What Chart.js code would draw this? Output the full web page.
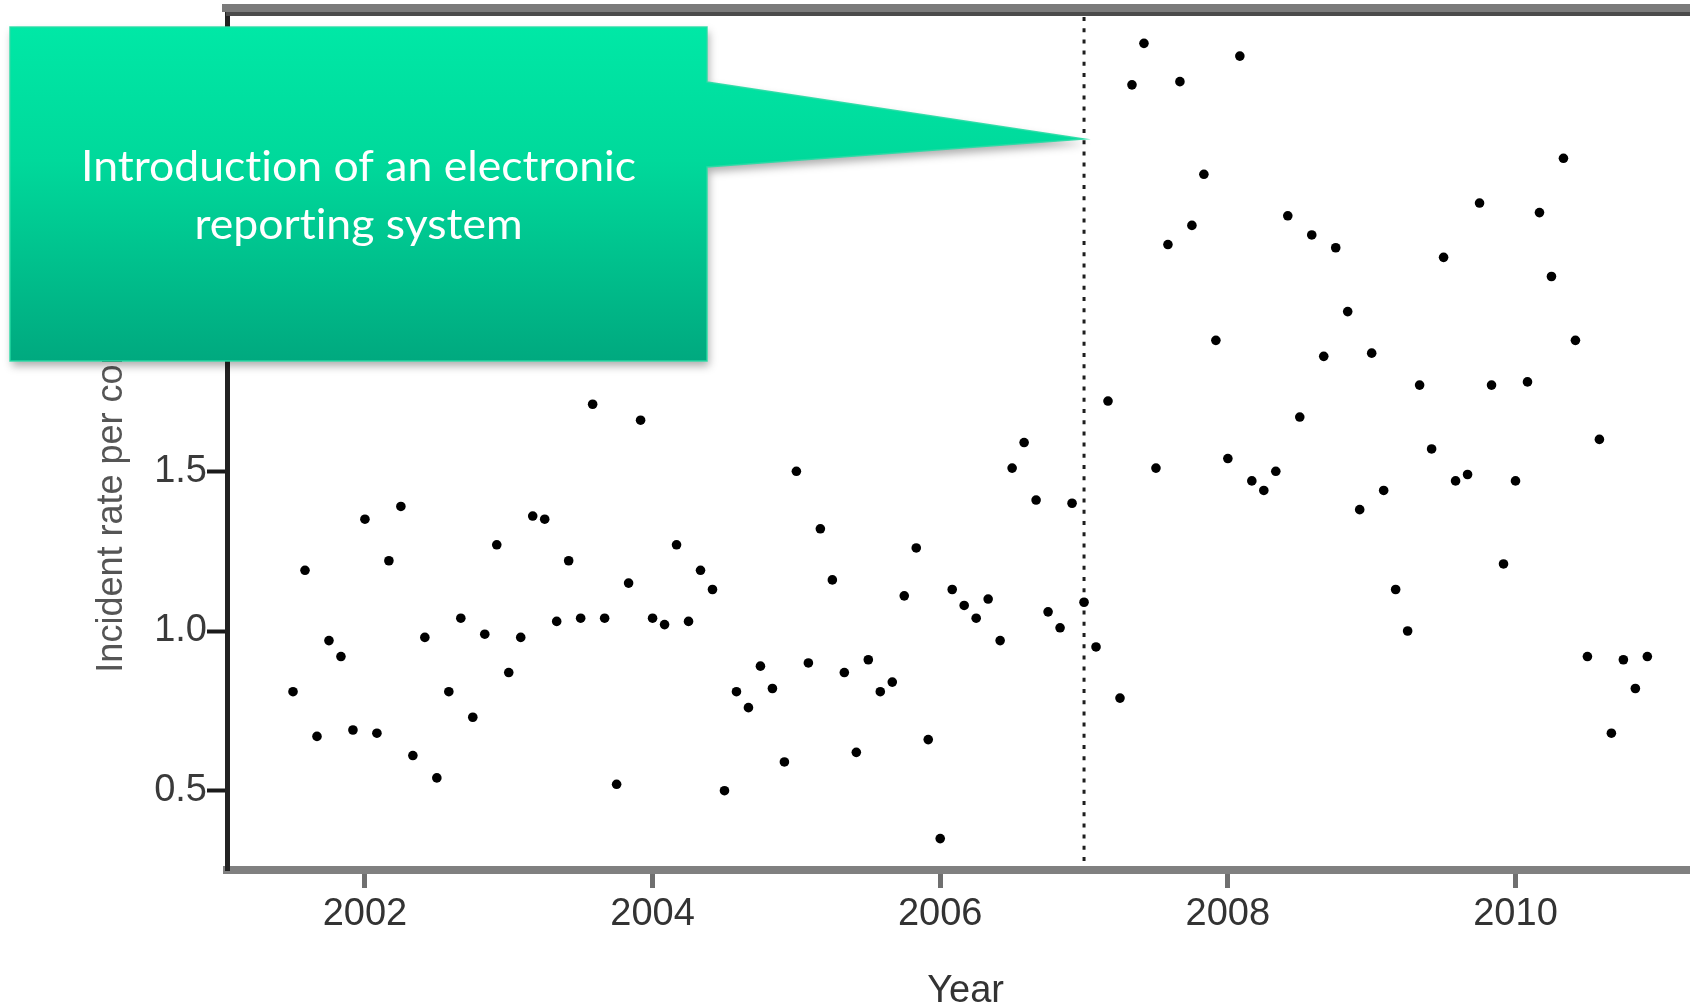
<!DOCTYPE html>
<html>
<head>
<meta charset="utf-8">
<script src="https://cdn.jsdelivr.net/npm/chart.js@4.4.0/dist/chart.umd.min.js"></script>
<style>
    html, body { margin: 0; padding: 0; background: #fff; overflow: hidden; }
    #wrap { width: 1709px; height: 1007px; }
    #rateChart { filter: blur(0.45px); }
</style>
</head>
<body>
<div id="wrap"><canvas id="rateChart" width="1709" height="1007"></canvas></div>
<script>
// Monthly incident rate, one value per month from Jul 2001 to Dec 2010
const startYear = 2001;
const startMonth = 7;
const incidentRates = [
    0.81, 1.19, 0.67, 0.97, 0.92, 0.69,             // 2001 Jul-Dec
    1.35, 0.68, 1.22, 1.39, 0.61, 0.98, 0.54, 0.81, 1.04, 0.73, 0.99, 1.27, // 2002
    0.87, 0.98, 1.36, 1.35, 1.03, 1.22, 1.04, 1.71, 1.04, 0.52, 1.15, 1.66, // 2003
    1.04, 1.02, 1.27, 1.03, 1.19, 1.13, 0.50, 0.81, 0.76, 0.89, 0.82, 0.59, // 2004
    1.50, 0.90, 1.32, 1.16, 0.87, 0.62, 0.91, 0.81, 0.84, 1.11, 1.26, 0.66, // 2005
    0.35, 1.13, 1.08, 1.04, 1.10, 0.97, 1.51, 1.59, 1.41, 1.06, 1.01, 1.40, // 2006
    1.09, 0.95, 1.72, 0.79, 2.71, 2.84, 1.51, 2.21, 2.72, 2.27, 2.43, 1.91, // 2007
    1.54, 2.80, 1.47, 1.44, 1.50, 2.30, 1.67, 2.24, 1.86, 2.20, 2.00, 1.38, // 2008
    1.87, 1.44, 1.13, 1.00, 1.77, 1.57, 2.17, 1.47, 1.49, 2.34, 1.77, 1.21, // 2009
    1.47, 1.78, 2.31, 2.11, 2.48, 1.91, 0.92, 1.60, 0.68, 0.91, 0.82, 0.92  // 2010
];
const yearTicks = [2002, 2004, 2006, 2008, 2010];
const rateTicks = [0.5, 1.0, 1.5, 2.0, 2.5];
const interventionYear = 2007;
const calloutLines = ['Introduction of an electronic', 'reporting system'];

const points = incidentRates.map((v, i) => ({
    x: startYear + (startMonth - 1 + i) / 12,
    y: v
}));

const axisFont = { family: "'Liberation Sans', Arial, sans-serif", size: 38, lineHeight: 1.2 };

// dotted line at the intervention, frame line on top, and the callout
const annotationPlugin = {
    id: 'annotations',
    beforeDatasetsDraw(chart) {
        const { ctx, chartArea, scales } = chart;
        const x = scales.x.getPixelForValue(interventionYear);
        ctx.save();
        ctx.strokeStyle = '#1e1e1e';
        ctx.lineWidth = 3;
        ctx.setLineDash([4, 7.2]);
        ctx.beginPath();
        ctx.moveTo(x, chartArea.top + 4);
        ctx.lineTo(x, chartArea.bottom - 8);
        ctx.stroke();
        ctx.restore();
    },
    afterDraw(chart) {
        const { ctx, chartArea, scales } = chart;
        ctx.save();
        // top frame
        ctx.fillStyle = '#7b7b7b';
        ctx.fillRect(chartArea.left - 5, 4, chartArea.right - chartArea.left + 5, 8);
        ctx.fillStyle = '#4b4b4b';
        ctx.fillRect(chartArea.left - 1, 12, chartArea.right - chartArea.left + 1, 4);

        // callout shape
        const tipX = scales.x.getPixelForValue(interventionYear);
        const tipY = 139;
        const left = 10, top = 27, right = 707, bottom = 361;
        const baseTop = 82, baseBottom = 167;

        ctx.beginPath();
        ctx.moveTo(left, top);
        ctx.lineTo(right, top);
        ctx.lineTo(right, baseTop);
        ctx.lineTo(tipX, tipY);
        ctx.lineTo(right, baseBottom);
        ctx.lineTo(right, bottom);
        ctx.lineTo(left, bottom);
        ctx.closePath();

        const grad = ctx.createLinearGradient(0, top, 0, bottom);
        grad.addColorStop(0, '#00e8a6');
        grad.addColorStop(0.4, '#00d99b');
        grad.addColorStop(1, '#00a97f');
        ctx.fillStyle = grad;
        ctx.shadowColor = 'rgba(0, 0, 0, 0.32)';
        ctx.shadowBlur = 9;
        ctx.shadowOffsetX = 2;
        ctx.shadowOffsetY = 5;
        ctx.fill();
        ctx.shadowColor = 'transparent';
        ctx.strokeStyle = 'rgba(40, 220, 165, 0.9)';
        ctx.lineWidth = 1.5;
        ctx.stroke();

        // callout text: tall glyphs squeezed so the first line spans ~555px
        const family = "Lato, 'Open Sans', sans-serif";
        ctx.font = '43px ' + family;
        ctx.letterSpacing = '0.01px';
        const squeeze = 555 / ctx.measureText(calloutLines[0]).width;
        ctx.fillStyle = '#ffffff';
        ctx.textAlign = 'center';
        ctx.textBaseline = 'alphabetic';
        const cx = (left + right) / 2;
        ctx.translate(cx, 0);
        ctx.scale(squeeze, 1);
        ctx.fillText(calloutLines[0], 0, 181);
        ctx.fillText(calloutLines[1], 0, 239);
        ctx.restore();
    }
};

const ctx = document.getElementById('rateChart').getContext('2d');
new Chart(ctx, {
    type: 'scatter',
    data: {
        datasets: [{
            label: 'Incident rate',
            data: points,
            backgroundColor: '#000000',
            borderWidth: 0,
            pointRadius: 4.8,
            pointHoverRadius: 4.8
        }]
    },
    options: {
        responsive: false,
        animation: false,
        devicePixelRatio: 1,
        layout: { padding: { top: 13, left: 0, right: 0, bottom: 0 } },
        plugins: {
            legend: { display: false },
            tooltip: { enabled: false }
        },
        scales: {
            x: {
                type: 'linear',
                min: 2001.041,
                max: 2011.312,
                afterBuildTicks: scale => { scale.ticks = yearTicks.map(v => ({ value: v })); },
                afterFit: scale => {
                    scale.height = 137;
                    scale.paddingLeft = 0;
                    scale.paddingRight = 0;
                },
                grid: {
                    drawOnChartArea: false,
                    drawTicks: true,
                    tickLength: 18,
                    tickWidth: 5,
                    tickColor: '#6f6f6f'
                },
                border: { display: true, color: '#808080', width: 8 },
                ticks: {
                    padding: 4,
                    color: '#333333',
                    font: axisFont,
                    maxRotation: 0,
                    autoSkip: false,
                    callback: value => String(value)
                },
                title: {
                    display: true,
                    text: 'Year',
                    color: '#333333',
                    font: { family: axisFont.family, size: 38, lineHeight: 0.84 },
                    padding: { top: 0, bottom: 0 }
                }
            },
            y: {
                min: 0.2517,
                max: 2.935,
                afterBuildTicks: scale => { scale.ticks = rateTicks.map(v => ({ value: v })); },
                afterFit: scale => {
                    scale.width = 227;
                    scale.paddingTop = 0;
                    scale.paddingBottom = 0;
                },
                grid: {
                    drawOnChartArea: false,
                    drawTicks: true,
                    tickLength: 20,
                    tickWidth: 4,
                    tickColor: '#1a1a1a'
                },
                border: { display: true, color: '#222222', width: 5 },
                ticks: {
                    padding: 0,
                    color: '#3a3a3a',
                    font: axisFont,
                    callback: value => value.toFixed(1)
                },
                title: {
                    display: true,
                    text: 'Incident rate per consultation',
                    color: '#555555',
                    font: { family: axisFont.family, size: 36, lineHeight: 1 },
                    padding: { top: 94, bottom: 0 }
                }
            }
        }
    },
    plugins: [annotationPlugin]
});
</script>
</body>
</html>
